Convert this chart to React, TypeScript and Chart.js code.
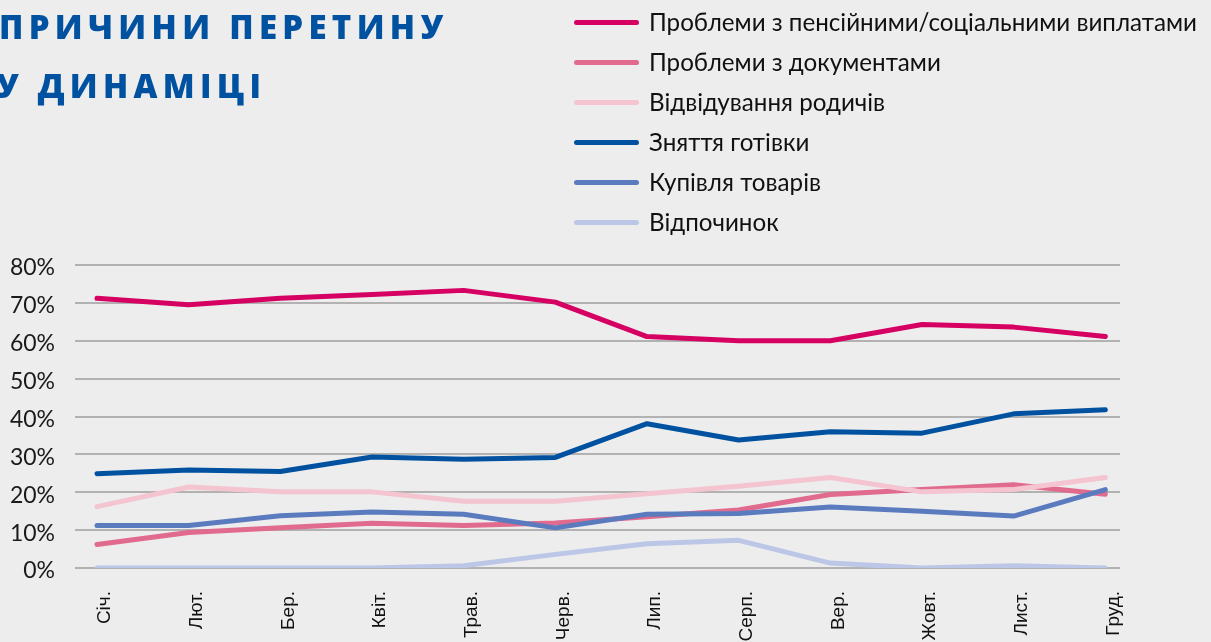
import React, { useEffect, useRef } from "react";
import { Chart, registerables } from "chart.js";

Chart.register(...registerables);

const months = ["Січ.", "Лют.", "Бер.", "Квіт.", "Трав.", "Черв.", "Лип.", "Серп.", "Вер.", "Жовт.", "Лист.", "Груд."];

const pension = [71.2, 69.5, 71.2, 72.2, 73.3, 70.2, 61.1, 60.0, 60.0, 64.3, 63.6, 61.1];
const documents = [6.2, 9.4, 10.6, 11.8, 11.2, 11.9, 13.5, 15.3, 19.4, 20.7, 22.0, 19.5];
const relatives = [16.2, 21.4, 20.1, 20.1, 17.6, 17.6, 19.6, 21.6, 23.9, 20.1, 20.7, 23.9];
const cash = [24.9, 25.9, 25.5, 29.3, 28.7, 29.2, 38.1, 33.8, 36.0, 35.6, 40.7, 41.8];
const purchases = [11.2, 11.2, 13.8, 14.8, 14.2, 10.6, 14.2, 14.4, 16.1, 15.0, 13.7, 20.7];
const vacation = [0, 0, 0, 0, 0.6, 3.6, 6.4, 7.3, 1.3, 0, 0.6, 0];

const seriesNames = [
  "Проблеми з пенсійними/соціальними виплатами",
  "Проблеми з документами",
  "Відвідування родичів",
  "Зняття готівки",
  "Купівля товарів",
  "Відпочинок",
];
const seriesValues = [pension, documents, relatives, cash, purchases, vacation];
const seriesColors = ["#D50062", "#E06B8E", "#F4C4D0", "#0052A0", "#5B7BBF", "#BCC6E7"];

const yTicks = [0, 10, 20, 30, 40, 50, 60, 70, 80];

const titleLines = ["ПРИЧИНИ ПЕРЕТИНУ", "У ДИНАМІЦІ"];

export default function App() {
  const canvasRef = useRef<HTMLCanvasElement | null>(null);

  useEffect(() => {
    document.body.style.margin = "0";
    document.body.style.overflow = "hidden";
    document.body.style.background = "#EDEDED";
    const canvas = canvasRef.current;
    if (!canvas) return;
    const chart = new Chart(canvas, {
      type: "line",
      data: {
        datasets: seriesValues.map((vals, i) => ({
          label: seriesNames[i],
          data: vals.map((v, j) => ({ x: j, y: v })),
          borderColor: seriesColors[i],
          backgroundColor: seriesColors[i],
          borderWidth: 5,
          pointRadius: 0,
          pointHoverRadius: 0,
          tension: 0,
          borderCapStyle: "round",
          borderJoinStyle: "round",
          order: seriesValues.length - i,
        })),
      },
      options: {
        animation: false,
        responsive: false,
        devicePixelRatio: 1,
        events: [],
        layout: { padding: { top: 265, right: 91, left: 0, bottom: 0 } },
        plugins: {
          legend: { display: false },
          tooltip: { enabled: false },
          title: { display: false },
        },
        scales: {
          x: {
            type: "linear",
            min: -0.24,
            max: 11.16,
            afterBuildTicks: (axis: any) => {
              axis.ticks = months.map((_, i) => ({ value: i }));
            },
            afterFit: (axis: any) => {
              axis.height = 132;
            },
            grid: { display: false },
            border: { display: false },
            ticks: {
              autoSkip: false,
              minRotation: 90,
              maxRotation: 90,
              padding: 15,
              labelOffset: 8,
              color: "#111",
              font: { family: "'Liberation Sans', Arial, sans-serif", size: 19 },
              callback: (v: any) => months[Math.round(Number(v))] ?? "",
            },
          },
          y: {
            min: 0,
            max: 80,
            afterBuildTicks: (axis: any) => {
              axis.ticks = yTicks.map((v) => ({ value: v }));
            },
            afterFit: (axis: any) => {
              axis.width = 75;
            },
            grid: { color: "#B2B2B2", lineWidth: 2, drawTicks: false },
            border: { display: false },
            ticks: {
              padding: 20,
              labelOffset: 3,
              color: "#1A1A1A",
              font: { family: "Lato, sans-serif", size: 23 },
              callback: (v: any) => v + "%",
            },
          },
        },
      },
    });
    return () => chart.destroy();
  }, []);

  return (
    <div
      style={{
        position: "relative",
        width: 1211,
        height: 642,
        overflow: "hidden",
        background: "#EDEDED",
      }}
    >
      <canvas
        ref={canvasRef}
        width={1211}
        height={700}
        style={{ position: "absolute", left: 0, top: 0, width: 1211, height: 700 }}
      />
      {titleLines.map((t, i) => (
        <div
          key={i}
          style={{
            position: "absolute",
            left: i === 0 ? -1 : -4,
            top: -2 + i * 59,
            height: 58,
            lineHeight: "58px",
            fontFamily: "'Open Sans', sans-serif",
            fontWeight: 800,
            fontSize: 33,
            letterSpacing: 5.3,
            color: "#0052A0",
            whiteSpace: "nowrap",
          }}
        >
          {t}
        </div>
      ))}
      {seriesNames.map((name, i) => (
        <div key={name} style={{ position: "absolute", left: 0, top: 22 + i * 40, width: 1211 }}>
          <div
            style={{
              position: "absolute",
              left: 574,
              top: -2.5,
              width: 65,
              height: 5,
              borderRadius: 3,
              background: seriesColors[i],
            }}
          />
          <div
            style={{
              position: "absolute",
              left: 649,
              top: -20,
              height: 40,
              lineHeight: "40px",
              fontFamily: "Lato, sans-serif",
              fontSize: 24.2,
              color: "#111",
              whiteSpace: "nowrap",
            }}
          >
            {name}
          </div>
        </div>
      ))}
    </div>
  );
}
